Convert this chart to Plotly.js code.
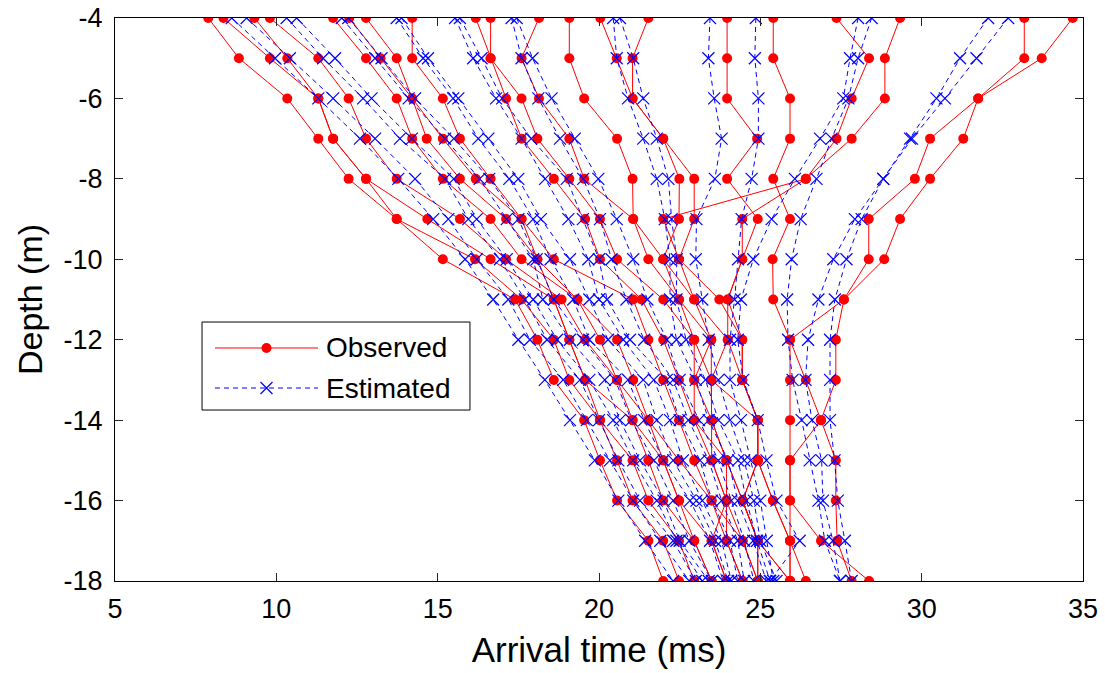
<!DOCTYPE html>
<html><head><meta charset="utf-8">
<script src="https://cdn.plot.ly/plotly-3.0.1.min.js"></script>
<style>html,body{margin:0;padding:0;background:#fff;} #chart{width:1105px;height:673px;}</style>
</head><body><div id="chart"></div>
<script>
// Depth levels (m)
const depth = [-4,-5,-6,-7,-8,-9,-10,-11,-12,-13,-14,-15,-16,-17,-18];

// Observed arrival times (ms), one array per gather
const obs01 = [7.89, 8.84, 10.34, 11.30, 12.24, 13.73, 15.16, 17.40, 18.09, 18.60, 19.54, 20.03, 20.56, 21.53, 21.99];
const obs02 = [8.36, 9.80, 11.30, 11.76, 12.78, 13.73, 16.16, 17.60, 18.60, 19.08, 20.03, 20.56, 21.04, 21.99, 22.48];
const obs03 = [9.32, 10.34, 11.30, 11.76, 12.78, 14.68, 16.64, 18.60, 19.08, 19.57, 20.03, 21.04, 21.53, 22.48, 22.95];
const obs04 = [9.80, 11.30, 12.24, 12.78, 13.73, 15.69, 17.12, 18.84, 19.57, 20.56, 21.04, 21.99, 22.48, 22.95, 23.49];
const obs05 = [11.76, 12.78, 13.73, 14.21, 15.16, 16.64, 17.60, 19.33, 20.03, 20.56, 21.53, 21.99, 22.48, 23.49, 23.95];
const obs06 = [12.26, 13.23, 14.21, 14.66, 15.69, 17.12, 18.09, 19.33, 20.56, 21.06, 21.53, 22.48, 23.49, 23.95, 24.45];
const obs07 = [12.78, 13.73, 14.21, 15.16, 16.18, 17.60, 18.60, 21.06, 21.53, 21.99, 22.48, 22.95, 23.49, 24.45, 24.92];
const obs08 = [14.21, 14.21, 15.16, 15.69, 16.64, 17.60, 18.09, 18.60, 19.08, 19.57, 21.04, 21.53, 21.99, 22.95, 23.49];
const obs09 = [16.18, 16.64, 17.12, 17.60, 18.60, 19.57, 20.03, 21.32, 21.99, 22.48, 22.95, 23.49, 23.95, 24.45, 24.92];
const obs10 = [16.64, 16.64, 17.60, 18.09, 19.08, 20.03, 20.56, 21.99, 22.95, 22.95, 22.95, 23.95, 24.45, 24.92, 24.92];
const obs11 = [18.14, 17.60, 18.14, 19.08, 19.54, 21.06, 21.53, 22.48, 22.95, 23.48, 23.49, 23.95, 24.45, 24.92, 25.92];
const obs12 = [19.08, 19.08, 19.54, 20.56, 21.04, 21.06, 21.99, 22.95, 23.48, 22.95, 23.49, 23.49, 23.95, 23.95, 24.45];
const obs13 = [20.04, 20.55, 21.04, 21.99, 22.49, 22.48, 21.99, 22.48, 23.48, 23.48, 24.92, 24.92, 25.39, 25.92, 26.41];
const obs14 = [21.53, 21.04, 21.04, 21.99, 22.95, 22.95, 22.48, 22.95, 23.99, 24.44, 24.92, 24.92, 24.45, 24.92, 25.92];
const obs15 = [23.97, 23.97, 23.97, 24.90, 23.97, 24.92, 24.44, 23.99, 24.44, 24.44, 24.92, 24.92, 24.45, 24.92, 24.92];
const obs16 = [25.40, 25.40, 25.92, 25.92, 25.40, 25.92, 25.38, 25.40, 25.92, 25.92, 25.92, 25.92, 25.92, 25.92, 25.92];
const obs17 = [27.36, 28.37, 27.83, 27.36, 26.41, 24.44, 24.44, 23.99, 23.99, 23.48, 23.49, 23.95, 23.95, 23.49, 23.95];
const obs18 = [29.33, 28.86, 28.86, 27.83, 26.41, 21.99, 22.48, 23.73, 24.44, 24.44, 24.92, 24.92, 25.39, 25.92, 25.92];
const obs19 = [33.18, 33.18, 31.75, 30.26, 29.79, 28.36, 28.36, 27.59, 25.92, 26.41, 26.88, 25.92, 25.92, 26.88, 28.37];
const obs20 = [34.68, 33.72, 31.75, 31.29, 30.26, 29.33, 28.84, 27.59, 27.34, 27.34, 26.88, 27.34, 27.34, 27.38, 27.83];

// Estimated arrival times (ms)
const est01 = [8.62, 9.96, 11.30, 12.59, 13.78, 14.86, 15.85, 16.72, 17.50, 18.32, 19.10, 19.87, 20.60, 21.43, 22.30];
const est02 = [9.08, 10.42, 11.76, 13.06, 14.30, 15.33, 16.21, 17.19, 17.86, 18.89, 19.62, 20.34, 21.06, 21.90, 22.80];
const est03 = [10.32, 11.45, 12.69, 13.83, 15.23, 15.95, 16.93, 17.70, 18.39, 19.41, 20.00, 20.60, 21.27, 22.30, 23.00];
const est04 = [10.63, 11.82, 12.95, 14.20, 15.50, 16.21, 17.14, 17.96, 18.70, 19.70, 20.44, 21.06, 21.79, 22.40, 23.20];
const est05 = [12.03, 13.06, 14.10, 15.23, 16.30, 17.14, 17.96, 18.26, 19.10, 20.18, 20.65, 21.27, 22.00, 22.50, 23.40];
const est06 = [12.23, 13.26, 14.30, 15.50, 16.60, 17.50, 18.07, 18.60, 19.50, 20.50, 21.00, 21.70, 22.30, 22.80, 23.50];
const est07 = [13.73, 14.55, 15.48, 16.26, 17.22, 17.96, 18.50, 19.20, 19.70, 20.90, 21.40, 22.00, 22.82, 23.44, 23.85];
const est08 = [13.88, 14.70, 15.64, 16.57, 17.50, 18.20, 19.10, 19.70, 20.28, 21.37, 21.79, 22.30, 23.02, 23.60, 24.00];
const est09 = [15.54, 16.10, 16.81, 17.60, 18.33, 19.05, 19.67, 20.00, 20.75, 21.70, 22.20, 22.60, 23.20, 23.80, 24.10];
const est10 = [15.69, 16.36, 17.00, 17.90, 19.00, 19.50, 20.00, 20.25, 20.96, 22.10, 22.50, 23.13, 23.50, 24.06, 24.30];
const est11 = [17.29, 17.60, 18.12, 18.79, 19.51, 20.03, 20.39, 20.85, 21.40, 22.30, 22.77, 23.40, 23.80, 24.30, 24.50];
const est12 = [17.45, 17.94, 18.53, 19.25, 19.98, 20.55, 21.06, 21.50, 22.10, 22.50, 23.10, 23.70, 24.10, 24.50, 24.80];
const est13 = [20.44, 20.55, 20.90, 21.37, 21.79, 22.04, 22.20, 22.20, 22.40, 23.00, 23.40, 24.00, 24.30, 24.78, 25.19];
const est14 = [20.65, 21.06, 21.37, 21.79, 22.15, 22.25, 22.41, 22.40, 22.70, 23.30, 23.70, 24.31, 24.57, 24.90, 25.30];
const est15 = [23.44, 23.39, 23.57, 23.80, 23.59, 23.02, 23.00, 23.20, 23.40, 23.70, 24.06, 24.50, 24.80, 25.00, 25.50];
const est16 = [24.86, 24.83, 24.94, 24.94, 24.73, 24.42, 24.31, 24.20, 24.06, 24.06, 24.40, 24.70, 25.00, 25.20, 25.40];
const est17 = [28.03, 27.78, 27.57, 26.85, 26.07, 25.35, 24.78, 24.40, 24.30, 24.47, 24.92, 25.19, 25.50, 26.22, 25.30];
const est18 = [28.45, 28.03, 27.73, 27.21, 26.74, 26.25, 25.97, 25.83, 25.86, 26.00, 26.28, 26.53, 26.80, 27.00, 27.47];
const est19 = [32.06, 31.19, 30.46, 29.64, 28.81, 27.93, 27.26, 26.80, 26.48, 26.40, 26.60, 26.90, 26.94, 27.25, 27.47];
const est20 = [32.68, 31.70, 30.72, 29.70, 28.81, 28.14, 27.67, 27.31, 27.16, 27.16, 27.16, 27.30, 27.40, 27.62, 27.83];

const xTickVals = [5, 10, 15, 20, 25, 30, 35];
const xTickText = ['5', '10', '15', '20', '25', '30', '35'];
const yTickVals = [-4, -6, -8, -10, -12, -14, -16, -18];
const yTickText = ['-4', '-6', '-8', '-10', '-12', '-14', '-16', '-18'];
const legendLabels = ['Observed', 'Estimated'];

const observed = [obs01,obs02,obs03,obs04,obs05,obs06,obs07,obs08,obs09,obs10,obs11,obs12,obs13,obs14,obs15,obs16,obs17,obs18,obs19,obs20];
const estimated = [est01,est02,est03,est04,est05,est06,est07,est08,est09,est10,est11,est12,est13,est14,est15,est16,est17,est18,est19,est20];

const RED = '#ff0000', BLUE = '#0000ff';
const redLine = {color: RED, width: 1};
const redMarker = {color: RED, size: 10, symbol: 'circle', line: {width: 0}};
const blueLine = {color: BLUE, width: 1, dash: '5px,4px'};
const blueMarker = {color: BLUE, size: 12, symbol: 'x-thin', line: {color: BLUE, width: 1.2}};

const traces = [];
observed.forEach((v) => traces.push({
  x: v, y: depth, type: 'scatter', mode: 'lines+markers', name: legendLabels[0],
  line: redLine, marker: redMarker, showlegend: false, hoverinfo: 'skip'
}));
estimated.forEach((v) => traces.push({
  x: v, y: depth, type: 'scatter', mode: 'lines+markers', name: legendLabels[1],
  line: blueLine, marker: blueMarker, showlegend: false, hoverinfo: 'skip'
}));

// Legend drawn in an overlay [0,1] frame so the samples can be wide like the original
const LG = {x0: 0.0899, x1: 0.3667, y0: 0.3037, y1: 0.46, sx0: 0.1033, sx1: 0.2097, tx: 0.2159, r1: 0.4139, r2: 0.3428};
traces.push({x: [LG.sx0, LG.sx1], y: [LG.r1, LG.r1], xaxis: 'x2', yaxis: 'y2', mode: 'lines', line: redLine, showlegend: false, hoverinfo: 'skip'});
traces.push({x: [(LG.sx0 + LG.sx1) / 2], y: [LG.r1], xaxis: 'x2', yaxis: 'y2', mode: 'markers', marker: redMarker, showlegend: false, hoverinfo: 'skip'});
traces.push({x: [LG.sx0, LG.sx1], y: [LG.r2, LG.r2], xaxis: 'x2', yaxis: 'y2', mode: 'lines', line: blueLine, showlegend: false, hoverinfo: 'skip'});
traces.push({x: [(LG.sx0 + LG.sx1) / 2], y: [LG.r2], xaxis: 'x2', yaxis: 'y2', mode: 'markers', marker: blueMarker, showlegend: false, hoverinfo: 'skip'});

const FONT = 'Liberation Sans, Arial, Helvetica, sans-serif';
const axisCommon = {
  showline: true, linecolor: '#000', linewidth: 1, mirror: 'ticks',
  ticks: 'inside', ticklen: 8, tickcolor: '#262626', tickwidth: 1,
  showgrid: false, zeroline: false, tickmode: 'array',
  tickfont: {family: FONT, size: 27, color: '#000'}, automargin: false
};

const layout = {
  width: 1105, height: 673,
  margin: {l: 115, r: 22, t: 18, b: 92},
  paper_bgcolor: '#fff', plot_bgcolor: '#fff',
  showlegend: false,
  font: {family: FONT, color: '#000'},
  xaxis: Object.assign({}, axisCommon, {
    range: [5, 35], tickvals: xTickVals, ticktext: xTickText, ticklabelstandoff: 4,
    title: {text: 'Arrival time (ms)', font: {family: FONT, size: 35, color: '#000'}, standoff: 14}
  }),
  yaxis: Object.assign({}, axisCommon, {
    range: [-18, -4], tickvals: yTickVals, ticktext: yTickText, ticklabelstandoff: 6,
    title: {text: 'Depth (m)', font: {family: FONT, size: 34, color: '#000'}, standoff: 10}
  }),
  xaxis2: {overlaying: 'x', range: [0, 1], visible: false, fixedrange: true},
  yaxis2: {overlaying: 'y', range: [0, 1], visible: false, fixedrange: true},
  shapes: [{type: 'rect', xref: 'paper', yref: 'paper', x0: LG.x0, x1: LG.x1, y0: LG.y0, y1: LG.y1,
            line: {color: '#000', width: 1}, fillcolor: '#fff', layer: 'below'}],
  annotations: [
    {xref: 'paper', yref: 'paper', x: LG.tx, y: LG.r1, text: legendLabels[0], showarrow: false, xanchor: 'left', yanchor: 'middle', font: {family: FONT, size: 28, color: '#000'}},
    {xref: 'paper', yref: 'paper', x: LG.tx, y: LG.r2, text: legendLabels[1], showarrow: false, xanchor: 'left', yanchor: 'middle', font: {family: FONT, size: 28, color: '#000'}}
  ]
};

Plotly.newPlot('chart', traces, layout, {staticPlot: true, displayModeBar: false});
</script>
</body></html>
